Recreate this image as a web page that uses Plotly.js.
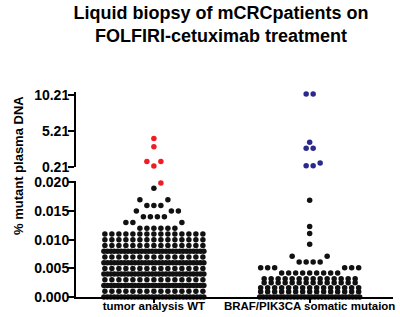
<!DOCTYPE html>
<html><head><meta charset="utf-8">
<script src="https://cdn.plot.ly/plotly-3.0.1.min.js"></script>
<style>html,body{margin:0;padding:0;background:#fff}#chart{width:400px;height:317px}</style>
</head><body><div id="chart"></div>
<script>
// ---------------- data ----------------
const categories = ['tumor analysis WT', 'BRAF/PIK3CA somatic mutaion'];
// WT group: % mutant plasma DNA values and number of patients at each value (black dots)
const wtValues = [0.000,0.001,0.002,0.003,0.004,0.005,0.006,0.007,0.008,0.009,0.010,0.011,0.012,0.013,0.014,0.015,0.016,0.017,0.019];
const wtCounts = [30,15,30,15,30,15,30,15,30,15,15,15,6,3,4,3,3,2,1];
// WT group high values (red dots)
const wtHighValues = [0.0199,0.40,1.01,1.01,3.07,4.21];
// BRAF/PIK3CA group values and counts (black dots)
const brafValues = [0.0000,0.0009,0.0016,0.0025,0.0032,0.0042,0.0051,0.0061,0.0071,0.0092,0.0111,0.0123,0.0169];
const brafCounts = [30,15,15,14,14,9,6,4,2,1,1,1,1];
// BRAF/PIK3CA group high values (blue dots)
const brafHighValues = [0.43,0.43,0.80,2.84,2.84,3.67,10.35,10.35];
const lowTicks = [0,0.005,0.010,0.015,0.020];
const highTicks = [0.21,5.21,10.21];

// ---------------- layout constants ----------------
const W = 400, H = 317;
const M = {l:76, r:7, t:92, b:20};
const xRange = [-0.5, 1.535];
const lowRange = [0, 0.0203], highRange = [0.2, 10.63];
const lowDomain = [0, 0.567], highDomain = [0.632, 1];
const FONT = 'Liberation Sans, Arial, sans-serif';
const BLACK = '#111111', RED = '#ee1c25', BLUE = '#2b2a8c';

const plotW = W - M.l - M.r, plotH = H - M.t - M.b;
const pxPerX = plotW / (xRange[1] - xRange[0]);
const pxPerY = (range, dom) => plotH * (dom[1] - dom[0]) / (range[1] - range[0]);

// ---------------- column scatter (beeswarm) layout ----------------
const SLOT = 7, MAXW = 100, DENSE = 10, NEAR = 5.9;
function swarm(points, ppy) {
  const map = new Map();
  points.forEach(p => { if (!map.has(p.v)) map.set(p.v, []); map.get(p.v).push(p.c); });
  const rows = [...map.entries()].map(([v, cs]) => ({v, cs})).sort((a, b) => a.v - b.v);
  const placed = [], out = [];
  rows.forEach(r => {
    const n = r.cs.length, y = r.v * ppy;
    const neigh = placed.filter(p => Math.abs(p.y - y) < NEAR);
    let xs;
    if (n >= DENSE) {
      const step = Math.min(SLOT, MAXW / (n - 1));
      xs = r.cs.map((_, i) => (i - (n - 1) / 2) * step);
      placed.push({y, xs, dense: true});
    } else {
      const blocked = [].concat(...neigh.filter(p => !p.dense).map(p => p.xs));
      const nearDense = neigh.some(p => p.dense);
      const centered = r.cs.map((_, i) => (i - (n - 1) / 2) * SLOT);
      const free = (x, own) => blocked.concat(own).every(b => Math.abs(b - x) >= SLOT - 0.01);
      if (!nearDense && centered.every(x => free(x, []))) xs = centered;
      else {
        xs = [];
        for (let k = 0; xs.length < n && k < 200; k++) {
          const c = (k === 0 ? 0 : (k % 2 ? 1 : -1) * Math.ceil(k / 2)) * SLOT / 2;
          if (free(c, xs)) xs.push(c);
        }
      }
      placed.push({y, xs, dense: false});
    }
    xs.forEach((x, i) => out.push({v: r.v, dx: x, c: r.cs[i]}));
  });
  return out;
}

function expand(values, counts, color) {
  const pts = [];
  values.forEach((v, i) => { for (let k = 0; k < counts[i]; k++) pts.push({v, c: color}); });
  return pts;
}

const groups = [
  expand(wtValues, wtCounts, BLACK).concat(wtHighValues.map(v => ({v, c: RED}))),
  expand(brafValues, brafCounts, BLACK).concat(brafHighValues.map(v => ({v, c: BLUE})))
];

const traceMap = {};
groups.forEach((pts, gi) => {
  [['y', lowRange, lowDomain, p => p.v < 0.1], ['y2', highRange, highDomain, p => p.v >= 0.1]].forEach(([ax, rg, dm, test]) => {
    const seg = pts.filter(test);
    if (!seg.length) return;
    swarm(seg, pxPerY(rg, dm)).forEach(p => {
      const key = ax + p.c;
      if (!traceMap[key]) traceMap[key] = {type: 'scatter', mode: 'markers', x: [], y: [], yaxis: ax, xaxis: 'x',
        cliponaxis: false, hoverinfo: 'skip', showlegend: false,
        marker: {color: p.c, size: 5.5, line: {width: 0}}};
      traceMap[key].x.push(gi + p.dx / pxPerX);
      traceMap[key].y.push(p.v);
    });
  });
});
const data = Object.values(traceMap);

const axisCommon = {showline: true, linewidth: 2, linecolor: '#000', ticks: 'outside', tickwidth: 2,
  tickcolor: '#000', showgrid: false, zeroline: false, fixedrange: true};

const layout = {
  width: W, height: H, margin: M, paper_bgcolor: '#fff', plot_bgcolor: '#fff',
  font: {family: FONT, color: '#000'},
  title: {text: '<b>Liquid biopsy of mCRCpatients on<br>FOLFIRI-cetuximab treatment</b>',
    font: {family: FONT, size: 18, color: '#000'}, x: 0.5525, xanchor: 'center', xref: 'container',
    y: 0.94, yanchor: 'top', yref: 'container'},
  xaxis: Object.assign({}, axisCommon, {range: xRange, anchor: 'y', tickvals: [0, 1],
    ticktext: categories.map(c => '<b>' + c + '</b>'), ticklen: 4, ticklabelstandoff: -7,
    tickfont: {family: FONT, size: 11.5, color: '#000'}}),
  yaxis: Object.assign({}, axisCommon, {domain: lowDomain, range: lowRange, anchor: 'x', tickvals: lowTicks,
    ticktext: lowTicks.map(v => '<b>' + v.toFixed(3) + '</b>'), ticklen: 6, ticklabelstandoff: -4,
    tickfont: {family: FONT, size: 14, color: '#000'}}),
  yaxis2: Object.assign({}, axisCommon, {domain: highDomain, range: highRange, anchor: 'x', tickvals: highTicks,
    ticktext: highTicks.map(v => '<b>' + v.toFixed(2) + '</b>'), ticklen: 6, ticklabelstandoff: -4,
    tickfont: {family: FONT, size: 14, color: '#000'}}),
  annotations: [{text: '<b>% mutant plasma DNA</b>', xref: 'paper', yref: 'paper',
    x: (18 - M.l) / plotW, y: (H - M.b - 166) / plotH, xanchor: 'center', yanchor: 'middle',
    textangle: -90, showarrow: false, font: {family: FONT, size: 13, color: '#000'}}]
};

Plotly.newPlot('chart', data, layout, {displayModeBar: false, staticPlot: true});
</script>
</body></html>
